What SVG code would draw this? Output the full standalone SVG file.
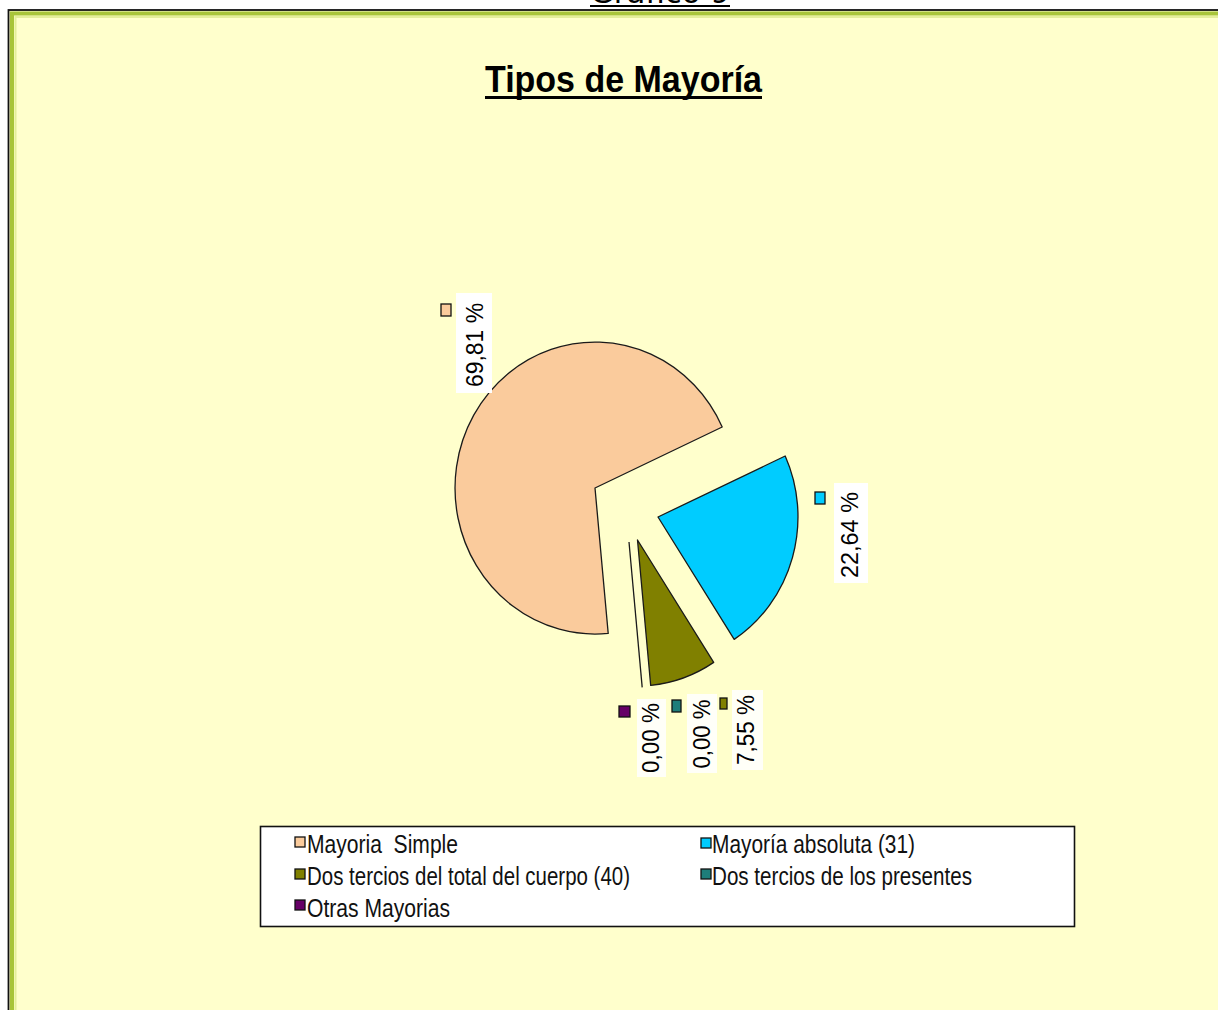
<svg xmlns="http://www.w3.org/2000/svg" width="1218" height="1010" viewBox="0 0 1218 1010">
<defs>
<style>
.slice{stroke:#1a1a1a;stroke-width:1.3;stroke-linejoin:round}
.lbl{font-family:"Liberation Sans",Arial,sans-serif;font-size:23px;fill:#000;text-anchor:middle}
.lbox{fill:#ffffff;stroke:none}
.mk{stroke:#111;stroke-width:1.3}
.leg{font-family:"Liberation Sans",Arial,sans-serif;font-size:25px;fill:#111;white-space:pre}
</style>
</defs>
<rect x="0" y="0" width="1218" height="1010" fill="#ffffff"/>
<g id="caption">
<text x="660" y="3" font-family="DejaVu Sans, sans-serif" font-size="30" text-anchor="middle" textLength="140" lengthAdjust="spacingAndGlyphs" fill="#000">Gráfico 9</text>
<line x1="590" y1="6" x2="730" y2="6" stroke="#000" stroke-width="1.8"/>
</g>
<g id="frame">
<rect x="8.5" y="10" width="1215" height="1005" fill="#FFFFCC" stroke="#111" stroke-width="1.8"/>
<rect x="12" y="13.5" width="1210" height="1000" fill="none" stroke="#A8C43A" stroke-width="4"/>
<rect x="15.5" y="17" width="1205" height="995" fill="none" stroke="#E4EE9A" stroke-width="2"/>
</g>
<g id="title">
<text x="623.5" y="92" font-family="Liberation Sans, Arial, sans-serif" font-size="37" font-weight="bold" text-anchor="middle" textLength="277" lengthAdjust="spacingAndGlyphs" fill="#000">Tipos de Mayoría</text>
<line x1="485" y1="97.5" x2="762" y2="97.5" stroke="#000" stroke-width="3"/>
</g>
<g id="pie">
<path id="slice-simple" class="slice" fill="#FACB9C" d="M595,488 L722.2,427 A140,146 0 1 0 608.2,633.4 Z"/>
<path id="slice-absoluta" class="slice" fill="#00CCFF" d="M658,517 L785.2,456 A140,146 0 0 1 734.2,639.4 Z"/>
<path id="slice-dostercios-total" class="slice" fill="#808000" d="M637.5,540 L713.7,662.4 A140,146 0 0 1 650.7,685.4 Z"/>
<path id="slice-zero" class="slice" fill="none" stroke-width="2" d="M629,542 L642.2,687.4"/>
</g>
<g id="labels">
<g id="label-simple">
<rect class="lbox" x="456" y="293" width="36" height="100"/>
<rect class="mk" x="441" y="304" width="10" height="12" fill="#FACB9C"/>
<text class="lbl" transform="translate(475,345) rotate(-90)" y="8" textLength="84" lengthAdjust="spacingAndGlyphs">69,81 %</text>
</g>
<g id="label-absoluta">
<rect class="lbox" x="834" y="483" width="34" height="100"/>
<rect class="mk" x="815" y="492" width="10" height="12" fill="#00CCFF"/>
<text class="lbl" transform="translate(850,535) rotate(-90)" y="8" textLength="86" lengthAdjust="spacingAndGlyphs">22,64 %</text>
</g>
<g id="label-otras">
<rect class="lbox" x="637" y="699" width="29" height="78" opacity="0.85"/>
<rect class="mk" x="619" y="706" width="11" height="11" fill="#660066"/>
<text class="lbl" transform="translate(651,738) rotate(-90)" y="8" textLength="70" lengthAdjust="spacingAndGlyphs">0,00 %</text>
</g>
<g id="label-presentes">
<rect class="lbox" x="687" y="694" width="30" height="79" opacity="0.85"/>
<rect class="mk" x="672" y="700" width="9" height="12" fill="#1E7E7A"/>
<text class="lbl" transform="translate(702,734) rotate(-90)" y="8" textLength="69" lengthAdjust="spacingAndGlyphs">0,00 %</text>
</g>
<g id="label-total">
<rect class="lbox" x="732" y="690" width="31" height="80" opacity="0.85"/>
<rect class="mk" x="720" y="698" width="7" height="11" fill="#808000"/>
<text class="lbl" transform="translate(746,730) rotate(-90)" y="8" textLength="70" lengthAdjust="spacingAndGlyphs">7,55 %</text>
</g>
</g>
<g id="legend">
<rect x="260.5" y="826.5" width="814" height="100" fill="#ffffff" stroke="#111" stroke-width="1.6"/>
<g id="leg-simple"><rect class="mk" x="295" y="837" width="10" height="10" fill="#FACB9C"/><text class="leg" x="307" y="853" textLength="151" lengthAdjust="spacingAndGlyphs">Mayoria  Simple</text></g>
<g id="leg-absoluta"><rect class="mk" x="701" y="838" width="10" height="10" fill="#00CCFF"/><text class="leg" x="712" y="853" textLength="203" lengthAdjust="spacingAndGlyphs">Mayoría absoluta (31)</text></g>
<g id="leg-total"><rect class="mk" x="295" y="869" width="10" height="10" fill="#808000"/><text class="leg" x="307" y="885" textLength="323" lengthAdjust="spacingAndGlyphs">Dos tercios del total del cuerpo (40)</text></g>
<g id="leg-presentes"><rect class="mk" x="701" y="869" width="10" height="10" fill="#1E7E7A"/><text class="leg" x="712" y="885" textLength="260" lengthAdjust="spacingAndGlyphs">Dos tercios de los presentes</text></g>
<g id="leg-otras"><rect class="mk" x="295" y="900" width="10" height="10" fill="#660066"/><text class="leg" x="307" y="917" textLength="143" lengthAdjust="spacingAndGlyphs">Otras Mayorias</text></g>
</g>
</svg>
